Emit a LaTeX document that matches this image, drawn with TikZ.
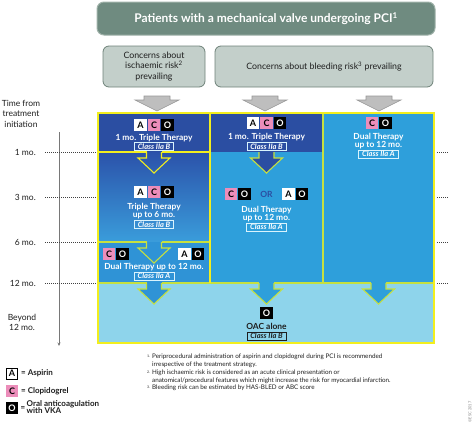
\documentclass[tikz,border=0pt]{standalone}
\usepackage{fontspec}
\setmainfont{Lato}
\usetikzlibrary{arrows.meta}
\definecolor{dblue}{HTML}{2B4EA2}
\definecolor{gtop}{HTML}{2B52AA}
\definecolor{gbot}{HTML}{3A9DDB}
\definecolor{mblue}{HTML}{2E9FDB}
\definecolor{dualb}{HTML}{2F93D6}
\definecolor{lblue}{HTML}{8ED4EB}
\definecolor{yel}{HTML}{F2EE1E}
\definecolor{yg}{HTML}{C6E040}
\definecolor{titlef}{HTML}{6F8B80}
\definecolor{titled}{HTML}{9FB2A9}
\definecolor{rowf}{HTML}{C3CFCA}
\definecolor{rowd}{HTML}{6E8279}
\definecolor{pinkc}{HTML}{EC8DBA}
\definecolor{greyarr}{HTML}{BEBEBE}
\definecolor{greyarrd}{HTML}{979797}
\definecolor{txt}{HTML}{1E1E1E}
\tikzset{
  titlebox/.style={draw=titled, line width=1pt, fill=titlef, rounded corners=7pt, text=white, font=\bfseries\fontsize{12}{13}\selectfont},
  rowbox/.style={draw=rowd, line width=0.8pt, fill=rowf, rounded corners=6pt, text=txt, align=center, font=\fontsize{8.8}{10.5}\selectfont},
  tile/.style={minimum width=12.5pt, minimum height=12pt, inner sep=0pt, font=\bfseries\fontsize{9}{9}\selectfont},
  tA/.style={tile, fill=white, text=black},
  tC/.style={tile, fill=pinkc, text=black},
  tO/.style={tile, fill=black, text=white},
  cell/.style={inner sep=0pt, text=white, font=\bfseries\fontsize{8.4}{8.4}\selectfont},
  classbox/.style={draw=white!85!cyan, line width=0.5pt, inner xsep=3.5pt, inner ysep=1.2pt, text=white, font=\bfseries\itshape\fontsize{7.5}{7.5}\selectfont},
  darkclass/.style={classbox, draw=txt, text=txt},
  timelbl/.style={inner sep=0pt, text=txt, font=\fontsize{8.5}{8.5}\selectfont},
  legtxt/.style={inner sep=0pt, anchor=west, text=txt, font=\bfseries\fontsize{8}{8}\selectfont},
  foot/.style={inner sep=0pt, anchor=west, text=txt, font=\fontsize{6.3}{6.3}\selectfont},
  footnum/.style={inner sep=0pt, anchor=west, text=txt, font=\fontsize{3.5}{3.5}\selectfont},
  dotline/.style={draw=txt!85, line width=0.7pt, dash pattern=on 0.8pt off 1.2pt},
  blockarrow/.pic={\path[pic actions] (-7.5,0) -- (-7.5,6) -- (-16,6) -- (0,21) -- (16,6) -- (7.5,6) -- (7.5,0);},
  greyarrow/.pic={\path[pic actions] (-13,0) -- (-13,4) -- (-22,4) -- (0,15) -- (22,4) -- (13,4) -- (13,0) -- cycle;}
}
\begin{document}
\begin{tikzpicture}[x=1pt,y=-1pt]
\useasboundingbox (0,0) rectangle (474,432);

% header boxes
\node[titlebox, minimum width=338pt, minimum height=33pt] (title) at (266,18.5) {Patients with a mechanical valve undergoing PCI\textsuperscript{1}};
\node[rowbox, minimum width=102pt, minimum height=41pt] (isch) at (154,66.5) {Concerns about\\ischaemic risk\textsuperscript{2}\\prevailing};
\node[rowbox, minimum width=218pt, minimum height=41pt] (bleed) at (324,66.5) {Concerns about bleeding risk\textsuperscript{3} prevailing};

% grey arrows
\pic[fill=greyarr, draw=greyarrd, line width=0.6pt] at (157,96) {greyarrow};
\pic[fill=greyarr, draw=greyarrd, line width=0.6pt] at (265,96) {greyarrow};
\pic[fill=greyarr, draw=greyarrd, line width=0.6pt] at (379,96) {greyarrow};

% grid fills
\fill[dblue] (98,113) rectangle (210,152);
\shade[top color=gtop, bottom color=gbot] (98,152) rectangle (210,242);
\fill[dualb] (98,242) rectangle (210,283);
\fill[dblue] (210,113) rectangle (323,152);
\fill[mblue] (210,152) rectangle (323,283);
\fill[mblue] (323,113) rectangle (434,283);
\fill[lblue] (98,283) rectangle (434,343);

% dividers
\draw[yel, line width=1.3pt] (98,152) -- (146.5,152) (161.5,152) -- (210,152);
\draw[yg, line width=1.2pt] (98,242) -- (146.5,242) (161.5,242) -- (210,242);
\draw[yg, line width=1.2pt] (98,283) -- (146.5,283) (161.5,283) -- (259,283) (274,283) -- (371,283) (386,283) -- (434,283);
\draw[yel, line width=1.3pt] (210,113) -- (210,283);
\draw[yg, line width=1.2pt] (323,113) -- (323,283);

% in-grid arrows
\pic[draw=yel, line width=1.1pt] at (154,152) {blockarrow};
\pic[fill=dblue, draw=yg, line width=1.1pt] at (266.5,152) {blockarrow};
\pic[draw=yg, line width=1.1pt] at (154,242) {blockarrow};
\pic[fill=dualb, draw=yg, line width=1.1pt] at (154,283) {blockarrow};
\pic[fill=mblue, draw=yg, line width=1.1pt] at (266.5,283) {blockarrow};
\pic[fill=mblue, draw=yg, line width=1.1pt] at (378.5,283) {blockarrow};

% outer frame
\draw[yel, line width=2pt] (98,113) rectangle (434,343);

% left column
\node[tA] (l1a) at (140.5,125) {A};
\node[tC] (l1c) at (154,125) {C};
\node[tO] (l1o) at (167.5,125) {O};
\node[cell] (l1t) at (154,138) {1 mo. Triple Therapy};
\node[classbox] (l1k) at (154,146.5) {Class IIa B};
\node[tA] (l2a) at (140.5,192) {A};
\node[tC] (l2c) at (154,192) {C};
\node[tO] (l2o) at (167.5,192) {O};
\node[cell] (l2t) at (154,207) {Triple Therapy};
\node[cell] (l2u) at (154,215.5) {up to 6 mo.};
\node[classbox] (l2k) at (154,224.5) {Class IIa B};
\node[tC] (l3c) at (109,254) {C};
\node[tO] (l3o) at (122.5,254) {O};
\node[tA] (l3a) at (184.5,254) {A};
\node[tO] (l3o2) at (198,254) {O};
\node[cell] (l3t) at (154,267) {Dual Therapy up to 12 mo.};
\node[classbox] (l3k) at (154,276) {Class IIa A};

% middle column
\node[tA] (m1a) at (253,123) {A};
\node[tC] (m1c) at (266.5,123) {C};
\node[tO] (m1o) at (280,123) {O};
\node[cell] (m1t) at (266.5,137) {1 mo. Triple Therapy};
\node[classbox] (m1k) at (266.5,146.5) {Class IIa B};
\node[tC] (m2c) at (231,194) {C};
\node[tO] (m2o) at (244.5,194) {O};
\node[cell, text=dblue, font=\bfseries\fontsize{8.5}{8.5}\selectfont] (m2or) at (266.5,194) {OR};
\node[tA] (m2a) at (288.5,194) {A};
\node[tO] (m2o2) at (302,194) {O};
\node[cell] (m2t) at (266.5,210) {Dual Therapy};
\node[cell] (m2u) at (266.5,218) {up to 12 mo.};
\node[classbox] (m2k) at (266.5,227) {Class IIa A};

% right column
\node[tC] (r1c) at (372,123) {C};
\node[tO] (r1o) at (385.5,123) {O};
\node[cell] (r1t) at (378.5,137) {Dual Therapy};
\node[cell] (r1u) at (378.5,145) {up to 12 mo.};
\node[classbox] (r1k) at (378.5,154) {Class IIa A};

% bottom row
\node[tO] (bo) at (266.5,313) {O};
\node[cell, text=txt] (bt) at (266.5,326) {OAC alone};
\node[darkclass] (bk) at (266.5,336) {Class IIa B};

% timeline
\node[timelbl, align=center, font=\fontsize{8.5}{10.5}\selectfont] (tf) at (21,113.5) {Time from\\treatment\\initiation};
\coordinate (tl0) at (59,132);
\coordinate (tl1) at (59,346);
\draw[txt!60, line width=0.6pt, -{Stealth[length=3.5pt,width=3pt]}] (tl0) -- (tl1);
\node[timelbl, anchor=east] (t1) at (36,152) {1 mo.};
\node[timelbl, anchor=east] (t3) at (36,197) {3 mo.};
\node[timelbl, anchor=east] (t6) at (36,242) {6 mo.};
\node[timelbl, anchor=east] (t12) at (36,283) {12 mo.};
\node[timelbl, align=center, font=\fontsize{8.5}{10}\selectfont] (tb) at (22,322) {Beyond\\12 mo.};
\foreach \yy/\nm in {152/a,197/b,242/c,283/d}{
  \coordinate (dl\nm) at (45,\yy);
  \coordinate (dr\nm) at (96,\yy);
  \coordinate (el\nm) at (437,\yy);
  \coordinate (er\nm) at (448,\yy);
  \draw[dotline] (dl\nm) -- (dr\nm);
  \draw[dotline] (el\nm) -- (er\nm);
}

% legend
\node[tA, draw=black, line width=0.6pt, minimum width=11pt, minimum height=11pt] (la) at (12,373.5) {A};
\node[legtxt] (lat) at (21,373.5) {= Aspirin};
\node[tC, minimum width=12pt, minimum height=12pt] (lc) at (12,391) {C};
\node[legtxt] (lct) at (21,391) {= Clopidogrel};
\node[tO, minimum width=12pt, minimum height=12pt] (lo) at (12,408) {O};
\node[legtxt] (lot) at (20.5,408.5) {=\,\begin{tabular}{@{}l@{}}Oral anticoagulation\\[-1.5pt]with VKA\end{tabular}};

% footnotes
\node[footnum] (f1n) at (147,356) {1.};
\node[foot] (f1) at (152,357) {Periprocedural administration of aspirin and clopidogrel during PCI is recommended};
\node[foot] (f1b) at (152,365) {irrespective of the treatment strategy.};
\node[footnum] (f2n) at (147,372) {2.};
\node[foot] (f2) at (152,373) {High ischaemic risk is considered as an acute clinical presentation or};
\node[foot] (f2b) at (152,381) {anatomical/procedural features which might increase the risk for myocardial infarction.};
\node[footnum] (f3n) at (147,387) {3.};
\node[foot] (f3) at (152,388) {Bleeding risk can be estimated by HAS-BLED or ABC score};

\node[rotate=90, inner sep=0pt, text=txt!55, font=\fontsize{4}{4}\selectfont] (esc) at (470,412) {©ESC 2017};
\end{tikzpicture}
\end{document}
